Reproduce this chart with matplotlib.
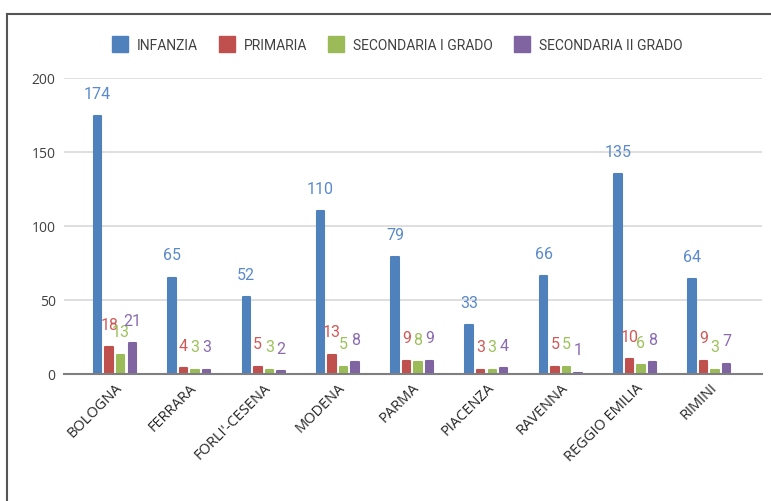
import matplotlib
matplotlib.use('Agg')
import matplotlib.pyplot as plt
import numpy as np
from matplotlib.lines import Line2D

provinces = ['BOLOGNA', 'FERRARA', "FORLI'-CESENA", 'MODENA', 'PARMA',
             'PIACENZA', 'RAVENNA', 'REGGIO EMILIA', 'RIMINI']
series_names = ['INFANZIA', 'PRIMARIA', 'SECONDARIA I GRADO', 'SECONDARIA II GRADO']
infanzia = [174, 65, 52, 110, 79, 33, 66, 135, 64]
primaria = [18, 4, 5, 13, 9, 3, 5, 10, 9]
secondaria_1 = [13, 3, 3, 5, 8, 3, 5, 6, 3]
secondaria_2 = [21, 3, 2, 8, 9, 4, 1, 8, 7]
y_ticks = [0, 50, 100, 150, 200]

colors = ['#4F81BD', '#C0504D', '#9BBB59', '#8064A2']
label_colors = ['#5A8ACB', '#CF5A57', '#9CC25A', '#8A6BB0']
all_series = [infanzia, primaria, secondaria_1, secondaria_2]

W, H = 771, 502
fig = plt.figure(figsize=(W / 100, H / 100), dpi=100)
ax = fig.add_axes([64 / W, 1 - 375 / H, (762 - 64) / W, (375 - 79) / H])

x = np.arange(len(provinces))
step = 0.155
width = 0.10
for k, (vals, c, lc) in enumerate(zip(all_series, colors, label_colors)):
    xpos = x + (k - 1.5) * step
    ax.bar(xpos, vals, width, color=c, edgecolor=c, linewidth=1.5,
           joinstyle='round', zorder=3)
    for xi, v in zip(xpos, vals):
        ax.annotate(str(v), (xi, v), xytext=(0, 16.5), textcoords='offset points',
                    ha='center', va='center', color=lc, fontsize=11.5,
                    family='Roboto', zorder=4)

ax.set_xlim(-0.686, 8.708)
ax.set_ylim(0, 200)
ax.set_yticks(y_ticks)
ax.set_yticklabels([str(t) for t in y_ticks], fontsize=10, color='#404040', family='Open Sans')
ax.set_xticks(x)
ax.set_xticklabels(provinces, rotation=45, ha='right', rotation_mode='anchor',
                   fontsize=10.5, color='#262626', family='Open Sans')
ax.tick_params(axis='both', length=0, pad=6)
ax.tick_params(axis='x', pad=4)
ax.grid(axis='y', color='#D9D9D9', linewidth=1.2, zorder=0)
for s in ['top', 'right', 'left']:
    ax.spines[s].set_visible(False)
ax.spines['bottom'].set_color('#7F7F7F')
ax.spines['bottom'].set_linewidth(1.5)
ax.spines['bottom'].set_zorder(5)

handles = [Line2D([0], [0], marker='s', linestyle='', markersize=11,
                  markerfacecolor=c, markeredgecolor=c) for c in colors]
fig.legend(handles, series_names, loc='center', bbox_to_anchor=(397 / W, 1 - 46 / H),
           ncol=4, frameon=False, prop={'family': 'Roboto', 'size': 10},
           labelcolor='#404040', handletextpad=0.6, columnspacing=1.5,
           handlelength=1.2)

# frame lines of the original screenshot
fig.add_artist(Line2D([7 / W, 1], [1 - 15 / H, 1 - 15 / H], color='#555555', linewidth=1.5,
                      transform=fig.transFigure))
fig.add_artist(Line2D([7 / W, 7 / W], [0, 1 - 15 / H], color='#555555', linewidth=1.5,
                      transform=fig.transFigure))

fig.savefig('out.png', dpi=100)
